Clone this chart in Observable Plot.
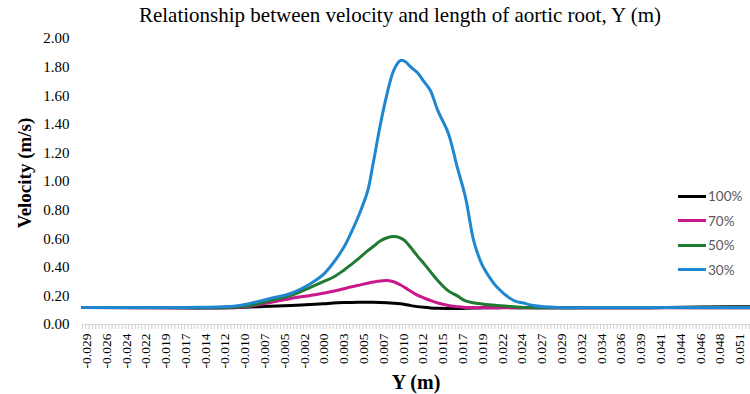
<!DOCTYPE html>
<html>
<head>
<meta charset="utf-8">
<script src="https://cdn.jsdelivr.net/npm/d3@7"></script>
<script src="https://cdn.jsdelivr.net/npm/@observablehq/plot@0.6"></script>
<style>
  html, body { margin: 0; padding: 0; background: #fff; }
  #wrap { position: relative; width: 750px; height: 394px; overflow: hidden; font-family: "Liberation Serif", "Times New Roman", serif; }
  #chart svg text { font-family: "Liberation Serif", "Times New Roman", serif; }
  #title { position: absolute; left: 400px; top: 15px; transform: translate(-50%, -50%); white-space: nowrap; font-size: 21px; color: #000; }
  #ylab { position: absolute; left: 25px; top: 173px; transform: translate(-50%, -50%) rotate(-90deg); font-weight: bold; font-size: 19px; white-space: nowrap; }
  #xlab { position: absolute; left: 416px; top: 382px; transform: translate(-50%, -50%); font-weight: bold; font-size: 20px; white-space: nowrap; }
  #legend { position: absolute; left: 678px; top: 184px; font-family: Lato, "Liberation Sans", sans-serif; font-size: 13.5px; color: #595959; }
  #legend .row { display: flex; align-items: center; height: 24.5px; }
  #legend .sw { width: 28px; height: 3px; margin-right: 2px; }
</style>
</head>
<body>
<div id="wrap">
  <div id="chart"></div>
  <div id="title">Relationship between velocity and length of aortic root, Y (m)</div>
  <div id="ylab">Velocity (m/s)</div>
  <div id="xlab">Y (m)</div>
  <div id="legend"></div>
</div>
<script>
// Position along aortic root (m)
const Ypos = [-0.0295, -0.020, -0.015, -0.011, -0.009, -0.0065, -0.004, -0.0016, 0.000, 0.0012,
  0.0025, 0.0033, 0.0042, 0.0054, 0.0061, 0.0070, 0.0078, 0.0086, 0.0094, 0.0100,
  0.0107, 0.0115, 0.0123, 0.0131, 0.0140, 0.0153, 0.0164, 0.0174, 0.0184, 0.0192,
  0.0196, 0.0213, 0.0233, 0.0245, 0.0257, 0.0287, 0.0336, 0.0400, 0.0462, 0.0502, 0.0523];

// Velocities (m/s) per series
const v100 = [0.119, 0.117, 0.116, 0.118, 0.122, 0.127, 0.133, 0.140, 0.145, 0.150,
  0.153, 0.154, 0.155, 0.155, 0.155, 0.154, 0.152, 0.149, 0.145, 0.140,
  0.132, 0.125, 0.120, 0.116, 0.113, 0.112, 0.112, 0.113, 0.115, 0.116,
  0.117, 0.118, 0.118, 0.118, 0.118, 0.118, 0.118, 0.118, 0.122, 0.124, 0.125];
const v70 = [0.119, 0.118, 0.117, 0.120, 0.128, 0.154, 0.182, 0.203, 0.218, 0.232,
  0.250, 0.262, 0.273, 0.289, 0.297, 0.305, 0.307, 0.299, 0.278, 0.258,
  0.232, 0.205, 0.186, 0.168, 0.150, 0.133, 0.125, 0.119, 0.118, 0.118,
  0.118, 0.118, 0.118, 0.118, 0.118, 0.118, 0.118, 0.118, 0.118, 0.118, 0.118];
const v50 = [0.119, 0.119, 0.118, 0.122, 0.132, 0.168, 0.203, 0.260, 0.300, 0.330,
  0.380, 0.415, 0.455, 0.515, 0.545, 0.585, 0.607, 0.615, 0.606, 0.585,
  0.538, 0.480, 0.427, 0.370, 0.308, 0.235, 0.200, 0.165, 0.152, 0.145,
  0.142, 0.133, 0.124, 0.119, 0.118, 0.117, 0.117, 0.118, 0.118, 0.118, 0.118];
const v30 = [0.119, 0.119, 0.120, 0.127, 0.147, 0.182, 0.217, 0.285, 0.350, 0.430,
  0.540, 0.630, 0.745, 0.930, 1.130, 1.406, 1.615, 1.776, 1.846, 1.839,
  1.800, 1.762, 1.700, 1.636, 1.497, 1.336, 1.098, 0.888, 0.587, 0.448,
  0.399, 0.259, 0.168, 0.150, 0.133, 0.119, 0.119, 0.119, 0.119, 0.119, 0.119];

const seriesNames = ["100%", "70%", "50%", "30%"];
const seriesColors = ["#000000", "#c8188c", "#217a31", "#1f86cf"];
const seriesValues = [v100, v70, v50, v30];

const xTickLabels = ["-0.029", "-0.026", "-0.024", "-0.022", "-0.019", "-0.017", "-0.014", "-0.012",
  "-0.010", "-0.007", "-0.005", "-0.002", "0.000", "0.003", "0.005", "0.007", "0.010", "0.012",
  "0.015", "0.017", "0.019", "0.022", "0.024", "0.027", "0.029", "0.032", "0.034", "0.036",
  "0.039", "0.041", "0.044", "0.046", "0.048", "0.051"];
const yTicks = [0, 0.2, 0.4, 0.6, 0.8, 1.0, 1.2, 1.4, 1.6, 1.8, 2.0];

// Category-axis layout: label positions evenly spaced (Excel category axis)
const firstTick = -0.029, tickStep = 0.080 / 33;
const majorTicks = xTickLabels.map((_, i) => firstTick + i * tickStep);
const labelOf = new Map(majorTicks.map((t, i) => [t, xTickLabels[i]]));
const xDomain = [-0.0295, 0.0523];
const minorTicks = d3.range(xDomain[0], xDomain[1] + 1e-9, tickStep / 6);

const rows = seriesNames.flatMap((name, s) =>
  Ypos.map((y, i) => ({name, Y: y, v: seriesValues[s][i]})));

const serif = "'Liberation Serif', 'Times New Roman', serif";
const chart = Plot.plot({
  width: 750,
  height: 394,
  marginLeft: 82,
  marginRight: 0,
  marginTop: 38,
  marginBottom: 70,
  style: {fontFamily: serif, fontSize: "13px", color: "#000", background: "#fff"},
  x: {domain: xDomain},
  y: {domain: [0, 2]},
  color: {domain: seriesNames, range: seriesColors},
  marks: [
    Plot.ruleY([0], {stroke: "#d9d9d9"}),
    Plot.axisX({ticks: minorTicks, tickSize: 5, tickFormat: () => "", stroke: "#d0d0d0", label: null}),
    Plot.axisX({ticks: majorTicks, tickSize: 0, tickPadding: 9, tickRotate: -90,
      tickFormat: d => labelOf.get(d), fontSize: 13.5, fontFamily: serif, fill: "#000", label: null}),
    Plot.axisY({ticks: yTicks, tickSize: 0, tickPadding: 13, tickFormat: d => d.toFixed(2),
      fontSize: 15, fontFamily: serif, fill: "#000", label: null}),
    Plot.line(rows, {x: "Y", y: "v", z: "name", stroke: "name", strokeWidth: 3, curve: "catmull-rom"})
  ]
});
document.getElementById("chart").appendChild(chart);

const legend = document.getElementById("legend");
seriesNames.forEach((n, i) => {
  const row = document.createElement("div");
  row.className = "row";
  row.innerHTML = `<span class="sw" style="background:${seriesColors[i]}"></span><span>${n}</span>`;
  legend.appendChild(row);
});
</script>
</body>
</html>
